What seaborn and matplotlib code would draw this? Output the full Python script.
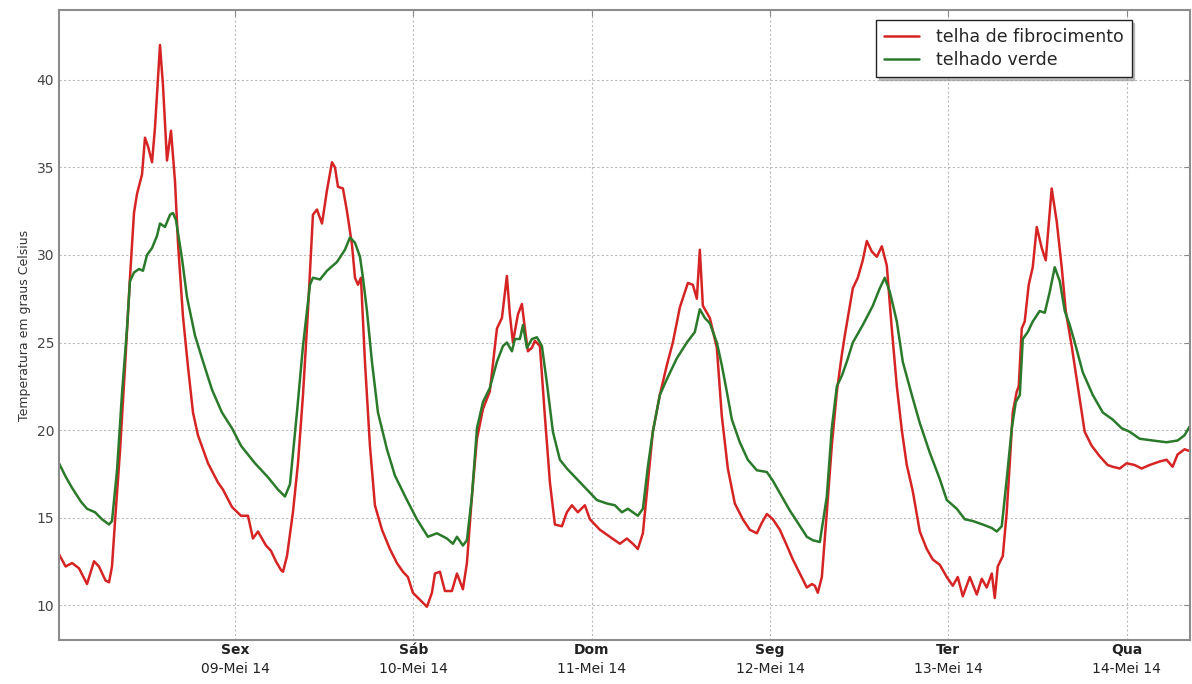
import matplotlib
matplotlib.use('Agg')
import matplotlib.pyplot as plt
import pandas as pd
import seaborn as sns

############### dados ###############
# horas contadas a partir de 08-Mei-2014 00:00

inicio = pd.Timestamp('2014-05-08 00:00')

horas_fibro = [
    0.32, 1.21, 2.07, 3.01, 4.09, 5.03, 5.70, 6.58, 7.05, 7.45, 7.86, 8.53, 9.20, 9.87,
    10.41, 10.82, 11.49, 11.89, 12.30, 12.84, 13.24, 13.91, 14.31, 14.85, 15.39, 15.93,
    16.33, 17.00, 17.68, 18.35, 19.02, 20.37, 21.71, 22.38, 23.60, 24.81, 25.75, 26.42,
    27.09, 28.17, 28.84, 29.51, 30.19, 30.46, 31.00, 31.80, 32.48, 33.15, 33.82, 34.49,
    35.03, 35.71, 36.38, 37.05, 37.46, 37.86, 38.53, 39.07, 39.74, 40.15, 40.55, 40.95,
    41.49, 42.16, 42.83, 43.78, 44.85, 45.79, 46.60, 47.27, 47.94, 48.89, 49.83, 50.50,
    50.91, 51.58, 52.25, 53.19, 53.87, 54.67, 55.21, 55.88, 56.56, 57.37, 58.29, 59.25,
    59.92, 60.59, 60.99, 61.40, 62.07, 62.61, 63.01, 63.42, 63.96, 64.36, 65.03, 65.70,
    66.38, 67.05, 67.99, 68.66, 69.34, 70.14, 71.08, 71.76, 73.10, 74.45, 75.79, 76.74,
    77.54, 78.21, 78.89, 79.56, 80.23, 81.17, 82.11, 82.92, 83.86, 84.94, 85.61, 86.15,
    86.55, 86.96, 87.90, 88.84, 89.51, 90.32, 91.26, 92.34, 93.28, 94.22, 94.90, 95.57,
    96.38, 97.32, 98.26, 99.07, 100.01, 100.95, 101.63, 102.03, 102.43, 102.97, 103.64,
    104.31, 104.99, 105.66, 106.06, 106.74, 107.14, 107.81, 108.48, 109.02, 109.69,
    110.37, 111.04, 111.71, 112.38, 113.06, 113.73, 114.40, 115.21, 116.15, 117.09,
    117.90, 118.84, 119.78, 120.59, 121.26, 121.94, 122.88, 123.82, 124.49, 125.16,
    125.84, 126.24, 126.64, 127.32, 127.85, 128.26, 128.66, 129.20, 129.47, 129.87,
    130.27, 130.81, 131.35, 131.89, 132.56, 133.10, 133.90, 134.58, 135.25, 135.79,
    136.59, 137.27, 137.94, 138.34, 139.28, 140.36, 141.43, 142.10, 143.05, 143.99,
    145.06, 146.00, 147.08, 148.42, 149.36, 150.17, 150.84, 151.78, 152.46,
]
temp_fibro = [
    12.9, 12.2, 12.4, 12.1, 11.2, 12.5, 12.2, 11.4, 11.3, 12.2, 14.8, 18.8, 23.6, 28.7,
    32.4, 33.5, 34.6, 36.7, 36.2, 35.3, 37.3, 42.0, 39.7, 35.4, 37.1, 34.2,
    30.7, 26.5, 23.6, 21.0, 19.7, 18.1, 17.0, 16.6, 15.6, 15.1, 15.1, 13.8,
    14.2, 13.4, 13.1, 12.5, 12.0, 11.9, 12.8, 15.3, 18.1, 22.0, 26.8, 32.3,
    32.6, 31.8, 33.7, 35.3, 35.0, 33.9, 33.8, 32.5, 30.6, 28.7, 28.3, 28.7,
    23.9, 19.1, 15.7, 14.3, 13.2, 12.4, 11.9, 11.6, 10.7, 10.3, 9.9, 10.7,
    11.8, 11.9, 10.8, 10.8, 11.8, 10.9, 12.4, 16.2, 19.5, 21.2, 22.2, 25.8,
    26.4, 28.8, 26.6, 25.0, 26.6, 27.2, 25.8, 24.5, 24.7, 25.1, 24.8, 20.8,
    17.0, 14.6, 14.5, 15.3, 15.7, 15.3, 15.7, 14.9, 14.3, 13.9, 13.5, 13.8,
    13.5, 13.2, 14.1, 17.0, 19.9, 22.0, 23.7, 25.0, 27.0, 28.4, 28.3, 27.5,
    30.3, 27.1, 26.4, 24.7, 20.8, 17.8, 15.8, 14.9, 14.3, 14.1, 14.7, 15.2,
    14.9, 14.3, 13.4, 12.6, 11.8, 11.0, 11.2, 11.1, 10.7, 11.6, 15.3,
    19.1, 22.2, 24.3, 25.4, 27.1, 28.1, 28.7, 29.7, 30.8, 30.2,
    29.9, 30.5, 29.4, 25.8, 22.5, 20.0, 18.0, 16.5, 14.2, 13.2,
    12.6, 12.3, 11.6, 11.1, 11.6, 10.5, 11.6, 10.6, 11.5, 11.0,
    11.8, 10.4, 12.2, 12.8, 15.3, 18.1, 21.0, 22.2, 22.5, 25.8,
    26.2, 28.3, 29.3, 31.6, 30.4, 29.7, 33.8, 31.9, 29.3, 26.8,
    24.8, 22.9, 21.0, 19.9, 19.1, 18.5, 18.0, 17.9, 17.8, 18.1,
    18.0, 17.8, 18.0, 18.2, 18.3, 17.9, 18.6, 18.9, 18.8,
]

horas_verde = [
    0.32, 1.26, 2.07, 3.28, 4.09, 5.17, 6.11, 7.05, 7.45, 8.13, 8.80, 9.47, 9.87, 10.41,
    11.08, 11.62, 12.16, 12.84, 13.51, 13.91, 14.58, 15.26, 15.66, 16.06, 16.87, 17.54,
    18.62, 19.56, 20.91, 22.25, 23.60, 24.81, 26.69, 28.44, 29.78, 30.73, 31.40, 32.34,
    33.15, 34.09, 34.49, 35.44, 36.38, 37.72, 38.80, 39.47, 40.15, 40.82, 41.22, 41.76,
    42.43, 43.24, 44.45, 45.52, 47.14, 48.48, 49.96, 51.17, 52.52, 53.33, 53.87, 54.67,
    55.21, 55.88, 56.56, 57.37, 58.29, 59.25, 60.06, 60.59, 61.27, 61.67, 62.34, 62.75,
    63.28, 63.96, 64.63, 65.30, 65.97, 66.78, 67.72, 68.66, 70.01, 71.35, 72.70, 74.04,
    75.12, 76.06, 76.87, 78.21, 78.89, 79.56, 80.23, 81.17, 82.11, 83.46, 84.81, 85.88,
    86.55, 87.23, 87.90, 88.84, 89.51, 90.18, 90.86, 91.93, 93.01, 94.22, 95.57, 96.38,
    97.59, 98.66, 99.74, 100.95, 101.76, 102.70, 103.64, 104.31, 104.99, 105.66, 106.33,
    107.14, 108.48, 109.83, 110.77, 111.44, 112.12, 113.06, 113.86, 115.08, 116.15,
    117.50, 118.84, 119.78, 121.13, 122.21, 123.28, 124.63, 125.84, 126.51, 127.18,
    127.85, 128.53, 129.07, 129.61, 130.01, 130.68, 131.35, 132.29, 132.97, 133.64,
    134.31, 134.99, 135.66, 136.33, 137.01, 138.08, 139.43, 140.78, 142.10, 143.32,
    144.39, 145.74, 147.49, 149.36, 150.84, 151.78, 152.46,
]
temp_verde = [
    18.1, 17.3, 16.7, 15.9, 15.5, 15.3, 14.9, 14.6, 14.8, 17.7, 22.1, 25.8, 28.5, 29.0,
    29.2, 29.1, 30.0, 30.4, 31.1, 31.8, 31.6, 32.3, 32.4, 32.0, 29.8, 27.6,
    25.4, 24.1, 22.3, 21.0, 20.1, 19.1, 18.1, 17.3, 16.6, 16.2, 16.9, 21.0,
    24.8, 28.3, 28.7, 28.6, 29.1, 29.6, 30.3, 31.0, 30.7, 29.9, 28.7, 26.8,
    23.9, 21.0, 18.9, 17.4, 16.0, 14.9, 13.9, 14.1, 13.8, 13.5, 13.9, 13.4,
    13.7, 16.2, 20.1, 21.6, 22.4, 23.9, 24.8, 25.0, 24.5, 25.2, 25.2, 26.0,
    24.7, 25.2, 25.3, 24.8, 22.7, 19.9, 18.3, 17.8, 17.2, 16.6, 16.0, 15.8,
    15.7, 15.3, 15.5, 15.1, 15.5, 17.9, 19.9, 22.0, 22.9, 24.1, 25.0, 25.6,
    26.9, 26.4, 26.1, 25.0, 23.7, 22.2, 20.6, 19.3, 18.3, 17.7, 17.6, 17.1,
    16.2, 15.4, 14.7, 13.9, 13.7, 13.6, 16.2, 20.1, 22.5, 23.1, 23.9,
    25.0, 26.0, 27.1, 28.1, 28.7, 27.9, 26.2, 23.9, 22.0, 20.4,
    18.7, 17.2, 16.0, 15.5, 14.9, 14.8, 14.6, 14.4, 14.2, 14.5,
    17.2, 20.1, 21.6, 22.0, 25.2, 25.6, 26.2, 26.8, 26.7, 27.9,
    29.3, 28.5, 26.8, 26.0, 25.0, 23.3, 22.0, 21.0, 20.6, 20.1,
    19.9, 19.5, 19.4, 19.3, 19.4, 19.7, 20.2,
]

dias = ['2014-05-09', '2014-05-10', '2014-05-11', '2014-05-12', '2014-05-13', '2014-05-14']
dias_semana = ['Sex', 'Sáb', 'Dom', 'Seg', 'Ter', 'Qua']
datas = ['09-Mei 14', '10-Mei 14', '11-Mei 14', '12-Mei 14', '13-Mei 14', '14-Mei 14']
ticks_y = [10, 15, 20, 25, 30, 35, 40]

############### grafico ###############

sns.set_style('white')
plt.rcParams['font.family'] = ['DejaVu Sans']

t_fibro = inicio + pd.to_timedelta(horas_fibro, unit='h')
t_verde = inicio + pd.to_timedelta(horas_verde, unit='h')

fig = plt.figure(figsize=(11.92, 6.84), dpi=100)
ax = fig.add_axes([0.0495, 0.0643, 0.9485, 0.9211])

sns.lineplot(x=t_fibro, y=temp_fibro, ax=ax, color='#d62424', linewidth=1.8,
             estimator=None, label='telha de fibrocimento')
sns.lineplot(x=t_verde, y=temp_verde, ax=ax, color='#2b7a2b', linewidth=1.8,
             estimator=None, label='telhado verde')

ax.set_xlim(t_fibro[0], t_fibro[-1])
ax.set_ylim(8, 44)
ax.set_yticks(ticks_y)

pos_dias = pd.to_datetime(dias)
ax.xaxis.remove_overlapping_locs = False
ax.set_xticks(pos_dias)
ax.set_xticklabels(dias_semana, fontweight='bold', fontsize=10, color='#222222')
ax.set_xticks(pos_dias, minor=True)
ax.set_xticklabels(datas, minor=True, fontsize=10, color='#222222')
ax.tick_params(axis='x', which='major', pad=2)
ax.tick_params(axis='x', which='minor', pad=16, length=0)
ax.tick_params(axis='both', which='major', direction='in', top=True, right=True,
               length=4, color='#888888')
ax.tick_params(axis='y', labelsize=10, labelcolor='#444444')

ax.grid(True, which='major', linestyle=(0, (2, 2)), color='#bbbbbb', linewidth=0.8)
for s in ax.spines.values():
    s.set_color('#8c8c8c')
    s.set_linewidth(1.5)

ax.set_xlabel('')
ax.set_ylabel('Temperatura em graus Celsius', fontsize=9, color='#333333')

leg = ax.legend(loc='upper right', bbox_to_anchor=(0.9487, 0.984), fontsize=12.5,
                frameon=True, fancybox=False,
                shadow={'color': '#999999', 'alpha': 0.6},
                handlelength=2.0, borderpad=0.45, labelspacing=0.3,
                borderaxespad=0.0, handletextpad=1.0)
leg.get_frame().set_edgecolor('#222222')
leg.get_frame().set_linewidth(1.0)

fig.savefig('out.png', dpi=100)
